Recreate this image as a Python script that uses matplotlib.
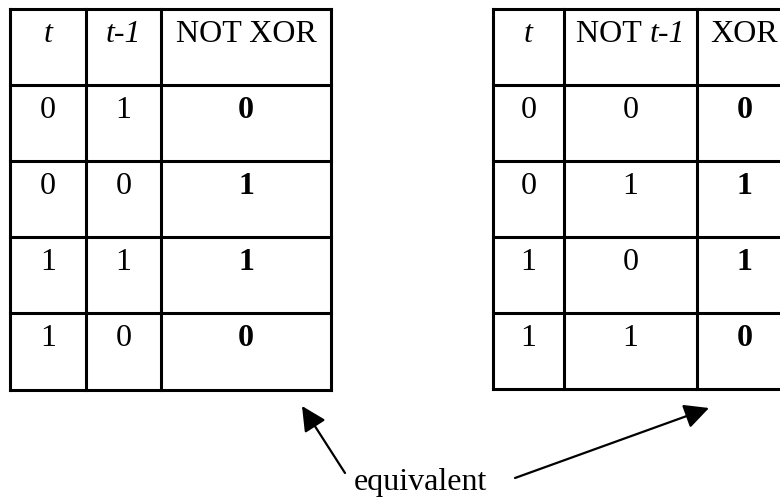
import matplotlib
matplotlib.use("Agg")
import matplotlib.pyplot as plt

plt.rcParams['font.family'] = ['Liberation Serif', 'DejaVu Serif']

# ---- data ----
# headers as lists of (text, style) pieces
left_headers = [[("t", "italic")], [("t-1", "italic")], [("NOT XOR", "normal")]]
left_t = ["0", "0", "1", "1"]
left_t1 = ["1", "0", "1", "0"]
left_out = ["0", "1", "1", "0"]

right_headers = [[("t", "italic")], [("NOT ", "normal"), ("t-1", "italic")],
                 [("XOR", "normal")]]
right_t = ["0", "0", "1", "1"]
right_nt1 = ["0", "1", "0", "1"]
right_out = ["0", "1", "1", "0"]

label = "equivalent"

# ---- layout (pixel coordinates) ----
W, H = 780, 502
fig = plt.figure(figsize=(W / 100, H / 100), dpi=100)
ax = fig.add_axes([0, 0, 1, 1])
ax.set_xlim(0, W)
ax.set_ylim(H, 0)
ax.axis('off')
renderer = fig.canvas.get_renderer()

FS = 23
LW = 2.2


def text_width(s, style):
    t = ax.text(0, 0, s, fontsize=FS, fontstyle=style)
    w = t.get_window_extent(renderer=renderer).width
    t.remove()
    return w  # pixels == data units here


def header(cx, y, pieces):
    widths = [text_width(s, st) for s, st in pieces]
    x = cx - sum(widths) / 2
    for (s, st), w in zip(pieces, widths):
        ax.text(x, y, s, ha='left', va='baseline', fontsize=FS, fontstyle=st)
        x += w


def draw_table(xs, ys, headers, cols):
    for x in xs:
        ax.plot([x, x], [ys[0], ys[-1]], color='black', lw=LW,
                solid_capstyle='projecting', clip_on=False)
    for y in ys:
        ax.plot([xs[0], xs[-1]], [y, y], color='black', lw=LW,
                solid_capstyle='projecting', clip_on=False)
    for j, h in enumerate(headers):
        header((xs[j] + xs[j + 1]) / 2, ys[0] + 32, h)
    for j, col in enumerate(cols):
        cx = (xs[j] + xs[j + 1]) / 2
        for i, v in enumerate(col):
            w = 'bold' if j == len(cols) - 1 else 'normal'
            ax.text(cx, ys[i + 1] + 32, v, ha='center', va='baseline',
                    fontsize=FS, fontweight=w)


draw_table([10, 86, 161, 331], [10, 86, 162, 238, 314, 391],
           left_headers, [left_t, left_t1, left_out])
draw_table([493, 564, 697, 792], [10, 86, 162, 238, 314, 390],
           right_headers, [right_t, right_nt1, right_out])

arrow = dict(arrowstyle='-|>,head_length=0.5,head_width=0.25', color='black',
             lw=1.6, mutation_scale=30, shrinkA=0, shrinkB=0)
ax.annotate("", xy=(302, 407), xytext=(345, 474), arrowprops=arrow)
ax.annotate("", xy=(709, 409), xytext=(515, 479), arrowprops=arrow)

ax.text(354, 490, label, ha='left', va='baseline', fontsize=FS)

fig.savefig("out.png", dpi=100)
